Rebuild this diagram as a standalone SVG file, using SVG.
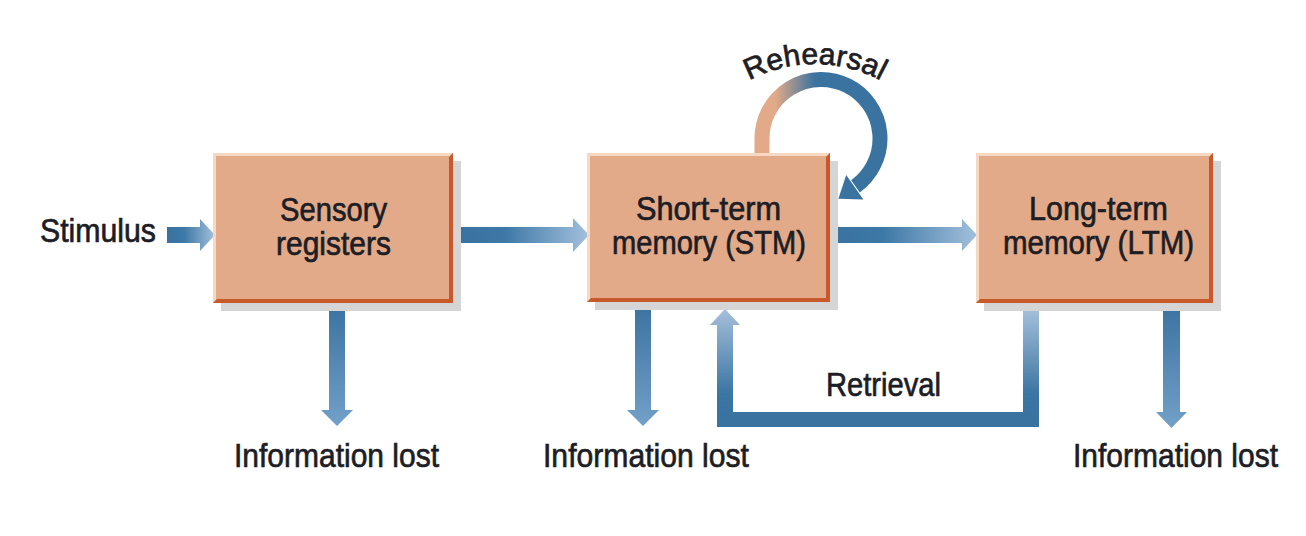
<svg xmlns="http://www.w3.org/2000/svg" width="1306" height="536" viewBox="0 0 1306 536">
  <defs>
    <linearGradient id="gH" x1="0" y1="0" x2="1" y2="0">
      <stop offset="0" stop-color="#3a72a0"/>
      <stop offset="0.35" stop-color="#3d78a6"/>
      <stop offset="1" stop-color="#a3c0dc"/>
    </linearGradient>
    <linearGradient id="gV" x1="0" y1="0" x2="0" y2="1">
      <stop offset="0" stop-color="#3a72a0"/>
      <stop offset="1" stop-color="#72a0c8"/>
    </linearGradient>
    <linearGradient id="gRet" gradientUnits="userSpaceOnUse" x1="0" y1="305" x2="0" y2="415">
      <stop offset="0" stop-color="#aac3dd"/>
      <stop offset="0.8" stop-color="#3c76a3"/>
      <stop offset="1" stop-color="#3a72a0"/>
    </linearGradient>
    <linearGradient id="gReh" gradientUnits="userSpaceOnUse" x1="775" y1="0" x2="815" y2="0">
      <stop offset="0" stop-color="#e2aa88"/>
      <stop offset="1" stop-color="#3a72a0"/>
    </linearGradient>
    <path id="rehArc" d="M 695.5 133 A 138 138 0 0 1 934.5 133"/>
  </defs>
  <style>
    .shadow { fill: #d5d5d5; }
    .box { fill: #e2aa88; }
    .hi { fill: #f6d8c3; }
    .lo { fill: #c8592a; }
    .t { font-family: "Liberation Sans", Arial, sans-serif; font-size: 34px; fill: #1d1d26; stroke: #1d1d26; stroke-width: 0.7px; }
  </style>
  <rect width="1306" height="536" fill="#ffffff"/>

  <g id="connectors">
    <polygon fill="url(#gH)" points="167,227 200,227 200,219 215,235 200,251 200,243 167,243"/>
    <polygon fill="url(#gH)" points="458,227 573,227 573,218 589,235 573,252 573,243 458,243"/>
    <polygon fill="url(#gH)" points="832,227 962,227 962,219 977,235 962,251 962,243 832,243"/>
    <polygon fill="url(#gV)" points="329,303 345,303 345,410 353,410 337,426 321,410 329,410"/>
    <polygon fill="url(#gV)" points="635,302 651,302 651,410 659,410 643,426 627,410 635,410"/>
    <polygon fill="url(#gV)" points="1163,303 1180,303 1180,412 1187,412 1171.5,428 1156,412 1163,412"/>
    <polygon fill="url(#gRet)" points="1023,303 1039,303 1039,427 717,427 717,325 710,325 725,309 740,325 733,325 733,412 1023,412"/>
    <path d="M 762 156 L 762 139 A 59 59 0 1 1 855.5 186.3" fill="none" stroke="url(#gReh)" stroke-width="15"/>
    <polygon fill="#3a72a0" points="846.2,175 863.4,199.6 838.4,198.8"/>
  </g>

  <g id="sensory">
    <rect class="shadow" x="221" y="161" width="240" height="150"/>
    <rect class="box" x="213" y="153" width="240" height="150"/>
    <polygon class="hi" points="213,153 453,153 450,156 216,156 216,300 213,303"/>
    <polygon class="lo" points="453,153 453,303 213,303 217,299 449,299 449,157"/>
    <text class="t" x="280" y="221" textLength="107" lengthAdjust="spacingAndGlyphs">Sensory</text>
    <text class="t" x="276" y="255" textLength="115" lengthAdjust="spacingAndGlyphs">registers</text>
  </g>

  <g id="stm">
    <rect class="shadow" x="595" y="161" width="243" height="149"/>
    <rect class="box" x="587" y="153" width="243" height="149"/>
    <polygon class="hi" points="587,153 830,153 827,156 590,156 590,299 587,302"/>
    <polygon class="lo" points="830,153 830,302 587,302 591,298 826,298 826,157"/>
    <text class="t" x="636" y="220" textLength="145" lengthAdjust="spacingAndGlyphs">Short-term</text>
    <text class="t" x="612" y="254" textLength="194" lengthAdjust="spacingAndGlyphs">memory (STM)</text>
  </g>

  <g id="ltm">
    <rect class="shadow" x="984" y="161" width="237" height="150"/>
    <rect class="box" x="976" y="153" width="237" height="150"/>
    <polygon class="hi" points="976,153 1213,153 1210,156 979,156 979,300 976,303"/>
    <polygon class="lo" points="1213,153 1213,303 976,303 980,299 1209,299 1209,157"/>
    <text class="t" x="1029" y="220" textLength="139" lengthAdjust="spacingAndGlyphs">Long-term</text>
    <text class="t" x="1003" y="254" textLength="191" lengthAdjust="spacingAndGlyphs">memory (LTM)</text>
  </g>

  <g id="labels">
    <text class="t" x="40" y="242" textLength="116" lengthAdjust="spacingAndGlyphs">Stimulus</text>
    <text class="t" x="234" y="467" textLength="205" lengthAdjust="spacingAndGlyphs">Information lost</text>
    <text class="t" x="543" y="467" textLength="206" lengthAdjust="spacingAndGlyphs">Information lost</text>
    <text class="t" x="1073" y="467" textLength="205" lengthAdjust="spacingAndGlyphs">Information lost</text>
    <text class="t" x="826" y="396" textLength="115" lengthAdjust="spacingAndGlyphs">Retrieval</text>
    <text class="t" style="font-size:30px" text-anchor="middle"><textPath href="#rehArc" startOffset="50%">Rehearsal</textPath></text>
  </g>
</svg>
